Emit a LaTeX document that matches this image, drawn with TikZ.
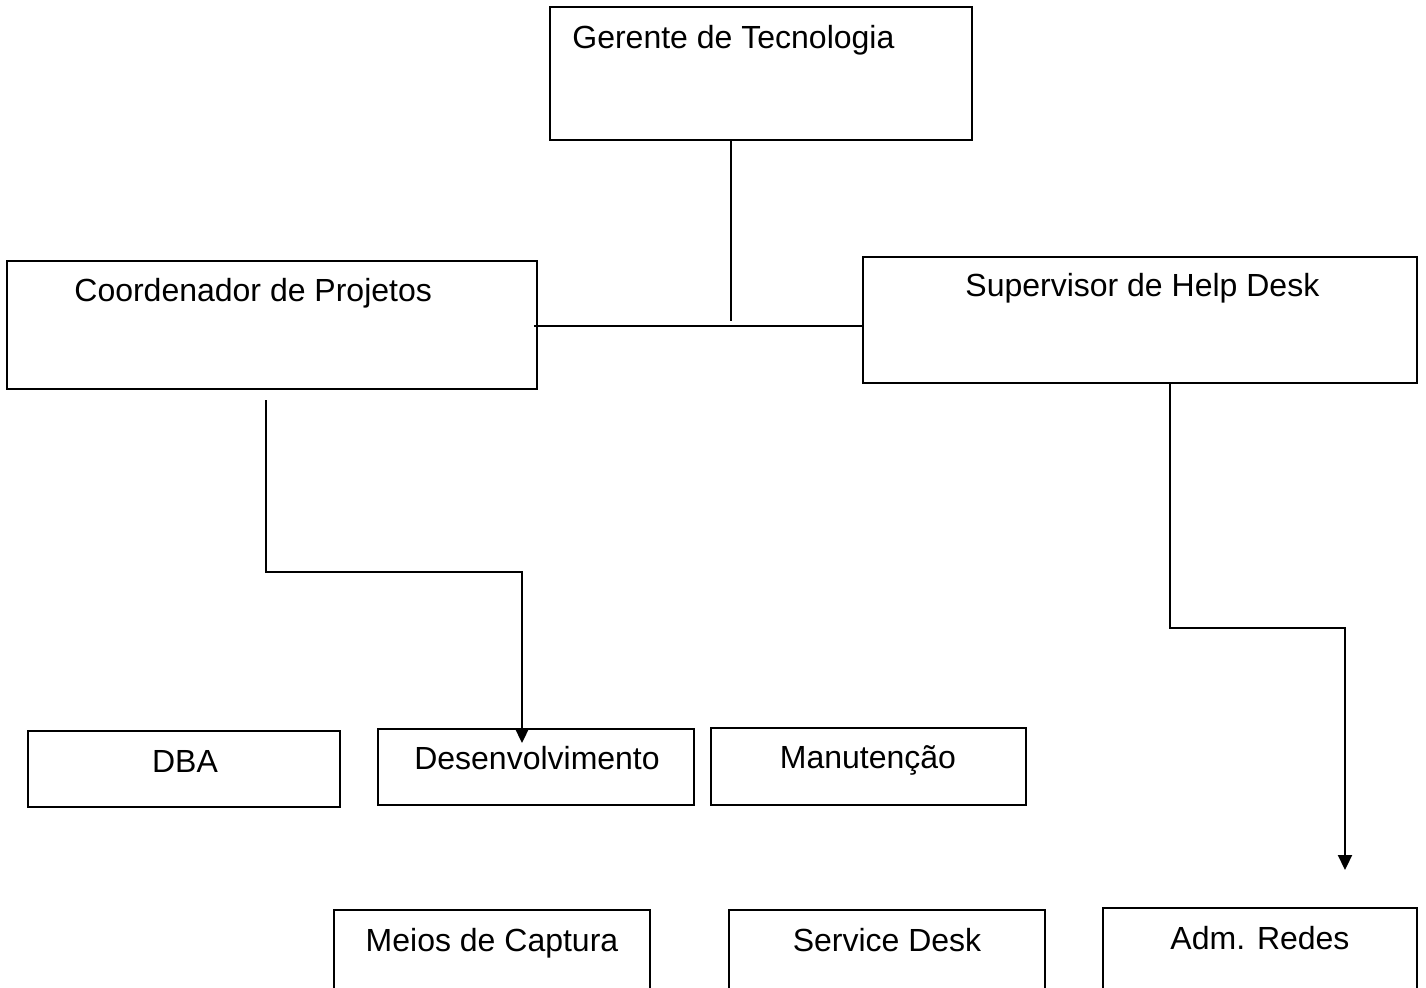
\documentclass[tikz,border=0pt]{standalone}
\usepackage{fontspec}
\setmainfont{Liberation Sans}
\usetikzlibrary{arrows.meta}
\begin{document}
\begin{tikzpicture}[x=0.5pt,y=-0.5pt,
  box/.style={draw, line width=1.1pt, rectangle, inner sep=0pt},
  lbl/.style={inner sep=0pt, font=\fontsize{16pt}{19pt}\selectfont},
  conn/.style={line width=1.1pt},
  arr/.style={line width=1.1pt, -{Triangle[length=7.5pt,width=7pt]}}]
\useasboundingbox (0,0) rectangle (1426,987);
% boxes
\node[box, minimum width=211pt, minimum height=66.5pt] (ger) at (761,73.5) {};
\node[box, minimum width=265pt, minimum height=64pt] (coo) at (272,325) {};
\node[box, minimum width=277pt, minimum height=63pt] (sup) at (1140,320) {};
\node[box, minimum width=156pt, minimum height=38pt] (dba) at (184,769) {};
\node[box, minimum width=158pt, minimum height=38pt] (des) at (536,767) {};
\node[box, minimum width=157.5pt, minimum height=38.5pt] (man) at (868.5,766.5) {};
\node[box, minimum width=158pt, minimum height=45pt] (mei) at (492,955) {};
\node[box, minimum width=158pt, minimum height=45pt] (ser) at (887,955) {};
\node[box, minimum width=157pt, minimum height=46pt] (adm) at (1260,954) {};
% labels
\node[lbl, anchor=base west] (tger) at (572,48) {Gerente de Tecnologia};
\node[lbl, anchor=base west] (tcoo) at (74,301) {Coordenador de Projetos};
\node[lbl, anchor=base west] (tsup) at (965,296) {Supervisor de Help Desk};
\node[lbl, anchor=base] (tdba) at (185,772) {DBA};
\node[lbl, anchor=base] (tdes) at (537,769) {Desenvolvimento};
\node[lbl, anchor=base] (tman) at (868,768) {Manutenção};
\node[lbl, anchor=base] (tmei) at (492,951) {Meios de Captura};
\node[lbl, anchor=base] (tser) at (887,951) {Service Desk};
\node[lbl, anchor=base] (tadm) at (1260,949) {Adm. Redes};
% connector coordinates
\coordinate (j) at (731,321);
\coordinate (h) at (700,326);
\coordinate (c1) at (266,400);
\coordinate (c2) at (522,572);
\coordinate (c3) at (522,743);
\coordinate (s1) at (1170,383);
\coordinate (s2) at (1345,628);
\coordinate (s3) at (1345,870);
% connectors
\draw[conn] (ger.south -| j) -- (j);
\draw[conn] ([xshift=-2pt]coo.east |- h) -- (sup.west |- h);
\draw[arr] (c1) |- (c2) -- (c3);
\draw[arr] (sup.south -| s1) |- (s2) -- (s3);
\end{tikzpicture}
\end{document}
